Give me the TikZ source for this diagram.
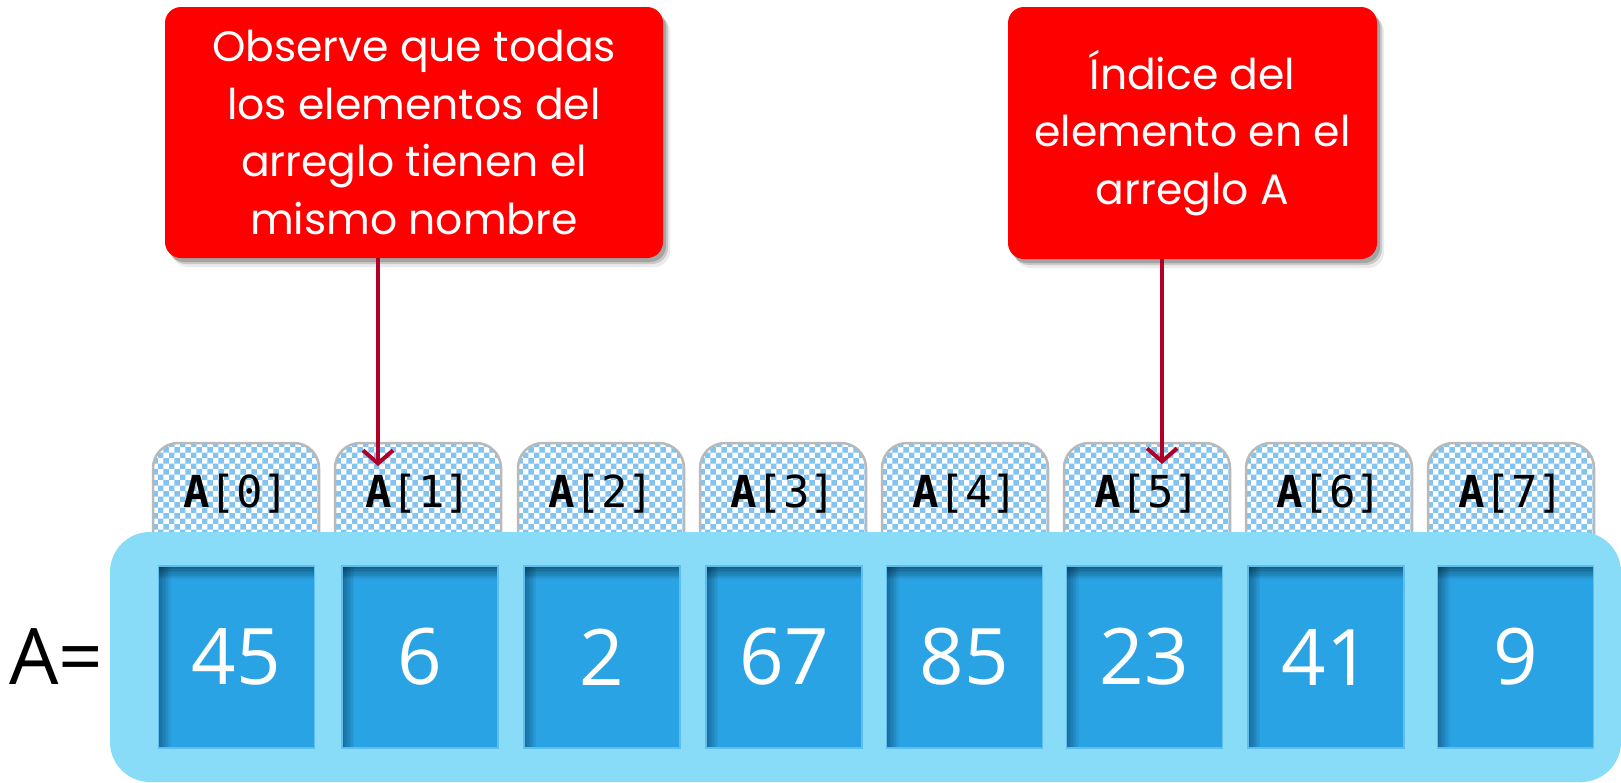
\documentclass[tikz,border=0pt]{standalone}
\usepackage{fontspec}
\setmainfont{Open Sans}
\newfontfamily\callfont{Poppins}
\newfontfamily\tabmono{DejaVu Sans Mono}
\usetikzlibrary{arrows.meta,shadows,patterns}
\definecolor{bigblue}{RGB}{137,220,248}
\definecolor{cellblue}{RGB}{41,163,228}
\definecolor{cellborder}{RGB}{95,190,238}
\definecolor{tabblue}{RGB}{130,195,240}
\definecolor{arrowred}{RGB}{176,0,40}
\definecolor{callred}{RGB}{255,0,0}
\tikzset{
  bigbox/.style={fill=bigblue, rounded corners=40pt, inner sep=0pt, minimum width=1511pt, minimum height=250pt},
  tabbox/.style={preaction={fill=white}, pattern=checkerboard, pattern color=tabblue, draw=gray!55, line width=2.5pt, rounded corners=25pt, inner sep=0pt, minimum width=166pt, minimum height=157pt},
  tablabel/.style={anchor=base, font=\tabmono\fontsize{44}{50}\selectfont, inner sep=0pt},
  cellbox/.style={fill=cellblue, draw=cellborder, line width=1.5pt, inner sep=0pt, minimum width=156pt, minimum height=182pt,
    text=white, font=\fontsize{78}{90}\selectfont,
    path picture={
      \foreach \k in {1,...,8}{
        \fill[black, opacity=0.06] (path picture bounding box.north west) rectangle ([yshift={-1.6pt*\k}]path picture bounding box.north east);
        \fill[black, opacity=0.045] (path picture bounding box.north west) rectangle ([xshift={1.5pt*\k}]path picture bounding box.south west);
      }
    }},
  callout/.style={fill=callred, rounded corners=16pt, inner sep=0pt, text=white, align=center,
    font=\callfont\fontsize{42.5}{57.5}\selectfont,
    drop shadow={shadow xshift=3pt, shadow yshift=-4pt, opacity=0.18, fill=black},
    drop shadow={shadow xshift=5pt, shadow yshift=-6pt, opacity=0.14, fill=black},
    drop shadow={shadow xshift=7pt, shadow yshift=-9pt, opacity=0.08, fill=black}},
  pointer/.style={draw=arrowred, line width=4pt, -{Straight Barb[length=13pt, width=30pt, line width=4pt]}}
}
\begin{document}
\begin{tikzpicture}[x=1pt, y=-1pt]
\useasboundingbox (0,0) rectangle (1621,782);
\fill[white] (0,0) rectangle (1621,782);
% tabs
\foreach \i/\tx in {0/236,1/418,2/601,3/783,4/965,5/1147,6/1329,7/1511}{
  \node[tabbox] (t\i) at (\tx,521.5) {};
}
% big array box
\node[bigbox] (arr) at (865.5,657) {};
% tab labels
\foreach \i/\tx in {0/236,1/418,2/601,3/783,4/965,5/1147,6/1329,7/1511}{
  \node[tablabel] (l\i) at (\tx,507) {\textbf{A}[\i]};
}
% cells
\foreach \i/\cx/\v in {0/236.5/45,1/420/6,2/602/2,3/784/67,4/964.5/85,5/1144.5/23,6/1326/41,7/1515.5/9}{
  \node[cellbox] (c\i) at (\cx,657) {\v};
}
% A=
\node[font=\fontsize{78}{90}\selectfont, inner sep=0pt] (aeq) at (56,657) {A=};
% callouts
\node[callout, minimum width=498pt, minimum height=251pt] (callL) at (414,132.5)
  {Observe que todas\\los elementos del\\arreglo tienen el\\mismo nombre};
\node[callout, minimum width=369pt, minimum height=252pt] (callR) at (1192.5,133)
  {Índice del\\elemento en el\\arreglo A};
% pointers
\coordinate (p1) at (378,466);
\coordinate (p5) at (1162,464);
\draw[pointer] (callL.south -| p1) -- (p1);
\draw[pointer] (callR.south -| p5) -- (p5);
\end{tikzpicture}
\end{document}
